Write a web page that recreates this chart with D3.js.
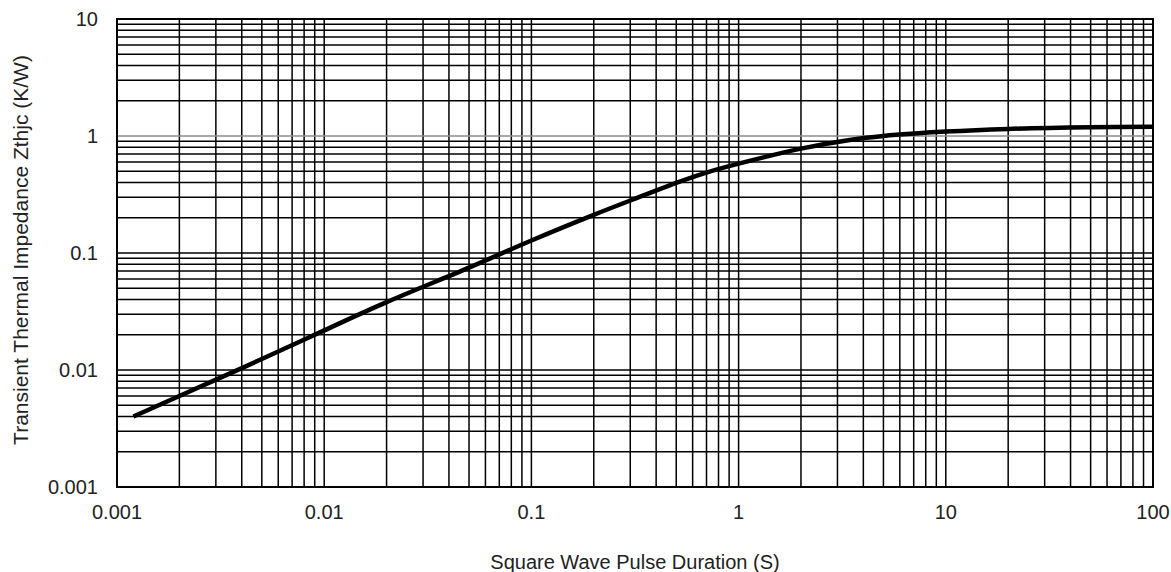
<!DOCTYPE html>
<html><head><meta charset="utf-8">
<script src="https://cdn.jsdelivr.net/npm/d3@7"></script>
<style>body{margin:0;background:#fff}svg{display:block}text{font-family:"Liberation Sans",Arial,sans-serif;fill:#222}</style>
</head><body><svg id="c" width="1171" height="572"></svg>
<script>
const pulseDuration = [0.0012, 0.002, 0.005, 0.01, 0.02, 0.05, 0.1, 0.2, 0.35, 0.5, 0.7, 1, 2, 3.5, 5, 10, 20, 50, 100];
const zthjc = [0.004, 0.0060, 0.0124, 0.0218, 0.038, 0.075, 0.128, 0.212, 0.312, 0.398, 0.487, 0.58, 0.78, 0.93, 1.0, 1.09, 1.15, 1.19, 1.2];
const xTickLabels = ["0.001", "0.01", "0.1", "1", "10", "100"];
const yTickLabels = ["0.001", "0.01", "0.1", "1", "10"];

const svg = d3.select("#c");
const L = 117, R = 1153, T = 19, B = 487;
const x = d3.scaleLog().domain([0.001, 100]).range([L, R]);
const y = d3.scaleLog().domain([0.001, 10]).range([B, T]);

const minor = (lo, hi) => { const a = []; for (let e = Math.round(Math.log10(lo)); e < Math.round(Math.log10(hi)); e++) for (let k = 1; k <= 9; k++) a.push(k * Math.pow(10, e)); a.push(hi); return a; };
const xs = minor(0.001, 100), ys = minor(0.001, 10);

const g = svg.append("g");
g.selectAll(".vx").data(xs).join("line").attr("x1", d => x(d)).attr("x2", d => x(d)).attr("y1", T).attr("y2", B).attr("stroke", "#000").attr("stroke-width", 1.5);
g.selectAll(".hy").data(ys).join("line").attr("y1", d => y(d)).attr("y2", d => y(d)).attr("x1", L).attr("x2", R)
  .attr("stroke", d => Math.abs(d - 1) < 1e-9 ? "#8c8c8c" : "#000").attr("stroke-width", 1.5);
g.append("rect").attr("x", L).attr("y", T).attr("width", R - L).attr("height", B - T).attr("fill", "none").attr("stroke", "#000").attr("stroke-width", 2);

const line = d3.line().x(d => x(d[0])).y(d => y(d[1])).curve(d3.curveCatmullRom.alpha(0.5));
svg.append("path").datum(pulseDuration.map((d, i) => [d, zthjc[i]])).attr("d", line)
  .attr("fill", "none").attr("stroke", "#000").attr("stroke-width", 4.5).attr("stroke-linecap", "butt");

svg.selectAll(".xl").data(xTickLabels).join("text").attr("x", d => x(+d)).attr("y", 519)
  .attr("text-anchor", "middle").attr("font-size", 20).text(d => d);
svg.selectAll(".yl").data(yTickLabels).join("text").attr("x", 98).attr("y", d => y(+d)).attr("dy", "0.35em")
  .attr("text-anchor", "end").attr("font-size", 20).text(d => d);

svg.append("text").attr("x", (L + R) / 2).attr("y", 569).attr("text-anchor", "middle").attr("font-size", 20).text("Square Wave Pulse Duration (S)");
svg.append("text").attr("transform", `translate(28,250) rotate(-90)`).attr("text-anchor", "middle").attr("font-size", 21).text("Transient Thermal Impedance Zthjc (K/W)");
</script></body></html>
